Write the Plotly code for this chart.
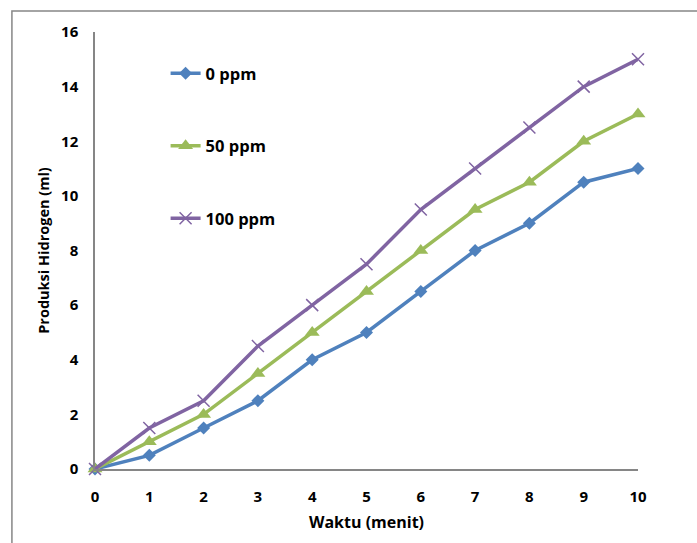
import plotly.graph_objects as go

waktu = [0, 1, 2, 3, 4, 5, 6, 7, 8, 9, 10]
ppm0 = [0, 0.5, 1.5, 2.5, 4, 5, 6.5, 8, 9, 10.5, 11]
ppm50 = [0, 1, 2, 3.5, 5, 6.5, 8, 9.5, 10.5, 12, 13]
ppm100 = [0, 1.5, 2.5, 4.5, 6, 7.5, 9.5, 11, 12.5, 14, 15]
names = ["0 ppm", "50 ppm", "100 ppm"]

font = "Open Sans"
fig = go.Figure()
fig.add_trace(go.Scatter(x=waktu, y=ppm0, name=names[0], mode="lines+markers",
                         line=dict(color="#4F81BD", width=3.5), legendgroup="a",
                         marker=dict(symbol="diamond", size=10, color="#4F81BD")))
fig.add_trace(go.Scatter(x=waktu, y=ppm50, name=names[1], mode="lines+markers",
                         line=dict(color="#9BBB59", width=3.5), legendgroup="b",
                         marker=dict(symbol="triangle-up", size=13, color="#9BBB59")))
fig.add_trace(go.Scatter(x=waktu, y=ppm100, name=names[2], mode="lines+markers",
                         line=dict(color="#8064A2", width=3.5), legendgroup="c",
                         marker=dict(symbol="x-thin-open", size=12,
                                     line=dict(color="#8064A2", width=1.5))))

fig.update_layout(
    width=697, height=543,
    margin=dict(l=95, r=59, t=32, b=74),
    plot_bgcolor="white", paper_bgcolor="white",
    font=dict(family=font, size=15, color="black"),
    showlegend=True,
    legend=dict(x=0.13, y=0.945, xanchor="left", yanchor="top",
                tracegroupgap=48, bgcolor="rgba(0,0,0,0)",
                font=dict(family=font, size=16.5, weight="bold")),
    xaxis=dict(range=[0, 10], tickvals=waktu, showgrid=False, zeroline=False,
               showline=True, linecolor="#868686", linewidth=1.5, ticks="",
               ticklabelstandoff=13,
               tickfont=dict(family=font, size=15, weight="bold"),
               title=dict(text="Waktu (menit)", standoff=12,
                          font=dict(family=font, size=16, weight="bold"))),
    yaxis=dict(range=[0, 16], dtick=2, showgrid=False, zeroline=False,
               showline=True, linecolor="#868686", linewidth=1.5, ticks="",
               ticklabelstandoff=12,
               tickfont=dict(family=font, size=15, weight="bold"),
               title=dict(text="Produksi Hidrogen (ml)", standoff=8,
                          font=dict(family=font, size=14.5, weight="bold"))),
    shapes=[dict(type="rect", xref="paper", yref="paper",
                 x0=-0.153, x1=1.3, y0=-0.3, y1=1.048,
                 line=dict(color="#868686", width=1.5), layer="below")],
)
for tr in fig.data:
    tr.cliponaxis = False

fig.write_html("out.html")
